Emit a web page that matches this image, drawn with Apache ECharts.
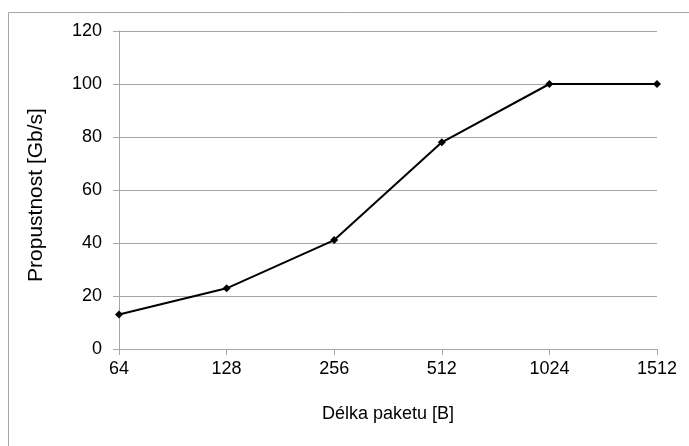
<!DOCTYPE html>
<html><head><meta charset="utf-8">
<script src="https://cdn.jsdelivr.net/npm/echarts@6/dist/echarts.min.js"></script>
<style>html,body{margin:0;padding:0;background:#fff}#c{width:689px;height:446px}</style>
</head><body><div id="c"></div>
<script>
var categories = ['64','128','256','512','1024','1512'];
var throughput = [13, 22.9, 41.1, 78, 100, 100];
var yTicks = {min: 0, max: 120, interval: 20};

var chart = echarts.init(document.getElementById('c'));
var font = 'Liberation Sans, Arial, sans-serif';
chart.setOption({
  animation: false,
  graphic: [{type:'rect', shape:{x:8.5,y:12.5,width:700,height:450}, style:{fill:'none',stroke:'#a6a6a6',lineWidth:1}, silent:true}],
  grid: {left:119, right:32, top:31, bottom:97},
  xAxis: {
    type:'category', data:categories, boundaryGap:false,
    name:'Délka paketu [B]', nameLocation:'middle', nameGap:56,
    nameTextStyle:{fontFamily:font, fontSize:18, color:'#000'},
    axisLine:{lineStyle:{color:'#a6a6a6', width:1}},
    axisTick:{show:true, length:6, lineStyle:{color:'#a6a6a6'}},
    axisLabel:{fontFamily:font, fontSize:18, color:'#000', margin:11},
    splitLine:{show:false}
  },
  yAxis: {
    type:'value', min:yTicks.min, max:yTicks.max, interval:yTicks.interval,
    name:'Propustnost [Gb/s]', nameLocation:'middle', nameGap:72, nameRotate:90,
    nameTextStyle:{fontFamily:font, fontSize:21, color:'#000', padding:[0,10,0,0]},
    axisLine:{show:true, lineStyle:{color:'#a6a6a6', width:1}},
    axisTick:{show:true, length:6, lineStyle:{color:'#a6a6a6'}},
    axisLabel:{fontFamily:font, fontSize:18, color:'#000', margin:17},
    splitLine:{show:true, lineStyle:{color:'#a6a6a6', width:1}}
  },
  series: [{
    type:'line', data:throughput, symbol:'diamond', symbolSize:8,
    lineStyle:{color:'#000', width:2}, itemStyle:{color:'#000'}
  }]
});
</script></body></html>
